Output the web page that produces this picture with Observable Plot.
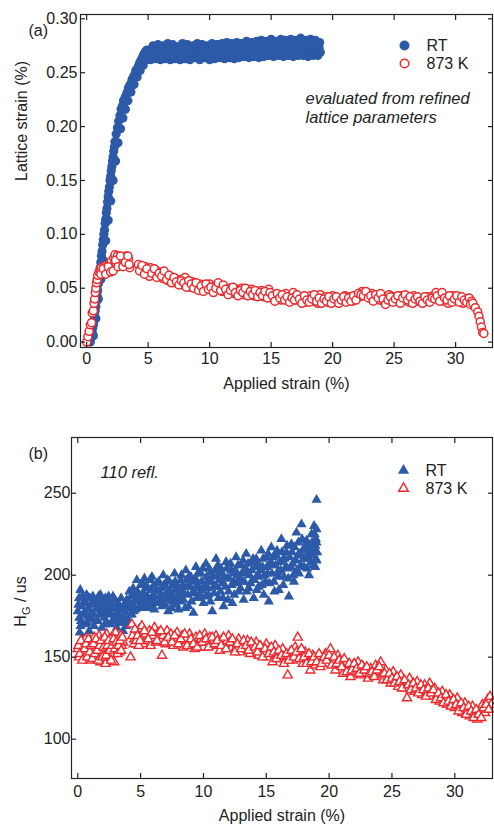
<!DOCTYPE html>
<html><head><meta charset="utf-8">
<script src="https://cdn.jsdelivr.net/npm/d3@7"></script>
<script src="https://cdn.jsdelivr.net/npm/@observablehq/plot@0.6"></script>
<style>body{margin:0;background:#fff;} svg{display:block;}</style>
</head><body><div id="chart"></div>
<script>
const xTicks = [0, 5, 10, 15, 20, 25, 30];
const yTicksA = [0, 0.05, 0.10, 0.15, 0.20, 0.25, 0.30];
const yTicksB = [100, 150, 200, 250];
const seriesNames = ["RT", "873 K"];
const xTitle = "Applied strain (%)";
const yTitleA = "Lattice strain (%)";
const panelA = "(a)", panelB = "(b)";
const noteA = ["evaluated from refined", "lattice parameters"];
const noteB = "110 refl.";

// (a) lattice strain vs applied strain, RT
const latticeRT = [
[0.30,0.000],[0.35,0.004],[0.40,0.006],[0.45,0.009],[0.50,0.013],[0.55,0.016],[0.60,0.020],[0.65,0.024],
[0.70,0.029],[0.75,0.033],[0.80,0.038],[0.85,0.043],[0.90,0.048],[0.95,0.054],[1.00,0.058],[1.05,0.064],
[1.10,0.069],[1.15,0.074],[1.20,0.080],[1.25,0.084],[1.30,0.090],[1.35,0.095],[1.40,0.100],[1.45,0.104],
[1.50,0.110],[1.55,0.114],[1.60,0.120],[1.65,0.124],[1.70,0.130],[1.75,0.135],[1.80,0.140],[1.85,0.144],
[1.90,0.150],[1.95,0.154],[2.00,0.159],[2.05,0.163],[2.10,0.168],[2.15,0.172],[2.20,0.177],[2.25,0.181],
[2.30,0.186],[2.40,0.193],[2.50,0.199],[2.60,0.205],[2.70,0.210],[2.80,0.216],[2.90,0.219],[3.00,0.224],
[3.10,0.226],[3.20,0.229],[3.30,0.232],[3.40,0.236],[3.50,0.238],[3.60,0.240],[3.70,0.244],[3.80,0.246],
[3.90,0.248],[4.00,0.252],[4.10,0.253],[4.20,0.256],[4.30,0.259],[4.40,0.261],[4.50,0.263],[4.60,0.266],
[4.70,0.268],[4.80,0.270],[4.90,0.271],[5.00,0.269],
[0.55,0.006],[0.75,0.022],[0.95,0.040],[1.15,0.058],[1.35,0.076],[1.55,0.094],[1.75,0.113],[1.95,0.131],
[2.15,0.150],[2.35,0.168],[2.55,0.185],[2.75,0.198],[2.95,0.208],[3.15,0.216],[3.35,0.224],[3.60,0.232],
[3.85,0.239],[4.10,0.246],[4.35,0.252],[4.60,0.257],[4.85,0.262],[5.05,0.264],
[5.1,0.266],[5.3,0.272],[5.5,0.268],[5.7,0.265],[5.9,0.271],[6.1,0.268],[6.3,0.273],[6.5,0.266],
[6.7,0.270],[6.9,0.267],[7.1,0.272],[7.3,0.266],[7.5,0.270],[7.7,0.274],[7.9,0.267],[8.1,0.265],
[8.3,0.271],[8.5,0.268],[8.7,0.273],[8.9,0.266],[9.1,0.270],[9.3,0.267],[9.5,0.272],[9.7,0.265],
[9.9,0.269],[10.1,0.273],[10.3,0.267],[10.5,0.270],[10.7,0.266],[10.9,0.271],[11.1,0.268],[11.3,0.274],
[11.5,0.269],[11.7,0.266],[11.9,0.272],[12.1,0.269],[12.3,0.273],[12.5,0.268],[12.7,0.275],[12.9,0.270],
[13.1,0.273],[13.3,0.268],[13.5,0.276],[13.7,0.271],[13.9,0.269],[14.1,0.275],[14.3,0.270],[14.5,0.278],
[14.7,0.272],[14.9,0.268],[15.1,0.275],[15.3,0.271],[15.5,0.277],[15.7,0.269],[15.9,0.274],[16.1,0.278],
[16.3,0.271],[16.5,0.276],[16.7,0.269],[16.9,0.274],[17.1,0.277],[17.3,0.271],[17.5,0.275],[17.7,0.270],
[17.9,0.276],[18.1,0.272],[18.3,0.277],[18.5,0.270],[18.7,0.275],[18.9,0.273],[19.0,0.269],
[5.2,0.262],[5.4,0.275],[5.6,0.263],[5.8,0.276],[6.0,0.262],[6.2,0.275],[6.4,0.263],[6.6,0.277],
[6.8,0.262],[7.0,0.276],[7.2,0.263],[7.4,0.274],[7.6,0.262],[7.8,0.277],[8.0,0.263],[8.2,0.276],
[8.4,0.262],[8.6,0.275],[8.8,0.264],[9.0,0.277],[9.2,0.262],[9.4,0.276],[9.6,0.264],[9.8,0.275],
[10.0,0.262],[10.2,0.277],[10.4,0.263],[10.6,0.276],[10.8,0.264],[11.0,0.277],[11.2,0.263],[11.4,0.278],
[11.6,0.264],[11.8,0.277],[12.0,0.263],[12.2,0.278],[12.4,0.264],[12.6,0.277],[12.8,0.265],[13.0,0.279],
[13.2,0.264],[13.4,0.278],[13.6,0.265],[13.8,0.279],[14.0,0.264],[14.2,0.280],[14.4,0.265],[14.6,0.279],
[14.8,0.266],[15.0,0.281],[15.2,0.265],[15.4,0.279],[15.6,0.266],[15.8,0.281],[16.0,0.265],[16.2,0.280],
[16.4,0.266],[16.6,0.281],[16.8,0.265],[17.0,0.280],[17.2,0.266],[17.4,0.282],[17.6,0.266],[17.8,0.280],
[18.0,0.265],[18.2,0.281],[18.4,0.266],[18.6,0.280],[18.8,0.266],[18.95,0.278]
];
// (a) lattice strain vs applied strain, 873 K
const lattice873 = [
[0.00,0.000],[0.10,0.005],[0.20,0.010],[0.30,0.016],[0.40,0.018],[0.45,0.027],[0.55,0.029],[0.60,0.036],
[0.65,0.040],[0.70,0.046],[0.75,0.050],[0.80,0.055],[0.85,0.058],[0.90,0.062],[1.00,0.065],[1.10,0.067],
[1.20,0.069],[1.30,0.064],[1.40,0.070],[1.50,0.066],[1.60,0.071],[1.70,0.067],[1.80,0.072],[1.90,0.068],
[2.00,0.075],[2.10,0.070],[2.20,0.078],[2.30,0.081],[2.40,0.073],[2.50,0.080],[2.60,0.076],[2.70,0.072],
[2.80,0.078],[2.90,0.074],[3.00,0.077],[3.10,0.079],[3.20,0.080],[3.30,0.075],[3.40,0.077],[3.50,0.069],
[1.15,0.063],[1.35,0.068],[1.55,0.063],[1.75,0.070],[1.95,0.065],[2.15,0.066],[2.35,0.076],[2.55,0.070],
[2.75,0.080],[2.95,0.070],[3.15,0.074],[3.35,0.080],[3.45,0.072],
[4.20,0.072],[4.40,0.068],[4.60,0.065],[4.80,0.070],[5.00,0.066],[5.10,0.061],[5.20,0.069],[5.40,0.064],
[5.60,0.067],[5.80,0.062],[6.00,0.065],[6.20,0.059],[6.40,0.063],[6.60,0.057],[6.80,0.061],[7.00,0.056],
[7.20,0.059],[7.40,0.054],[7.60,0.058],[7.80,0.053],[8.00,0.060],[8.20,0.055],[8.40,0.051],[8.60,0.056],
[8.80,0.052],[9.00,0.050],[9.20,0.054],[9.40,0.049],[9.60,0.052],[9.80,0.050],[10.00,0.054],[10.20,0.048],
[10.40,0.052],[10.60,0.049],[10.80,0.053],[11.00,0.047],[11.20,0.051],[11.40,0.046],[11.60,0.050],[11.80,0.048],
[12.00,0.045],[12.20,0.049],[12.40,0.046],[12.60,0.050],[12.80,0.044],[13.00,0.047],[13.20,0.045],[13.40,0.049],
[13.60,0.043],[13.80,0.046],[14.00,0.044],[14.20,0.048],[14.40,0.042],[14.60,0.045],[14.80,0.049],[15.00,0.041],
[15.20,0.044],[15.40,0.040],[15.60,0.043],[15.80,0.039],[16.00,0.042],[16.20,0.045],[16.40,0.040],[16.60,0.043],
[16.80,0.046],[17.00,0.039],[17.20,0.042],[17.40,0.038],[17.60,0.041],[17.80,0.037],[18.00,0.040],[18.20,0.043],
[18.40,0.038],[18.60,0.041],[18.80,0.036],[19.00,0.044],[19.20,0.039],[19.40,0.042],[19.60,0.037],[19.80,0.040],
[20.00,0.043],[20.20,0.038],[20.40,0.041],[20.60,0.037],[20.80,0.040],[21.00,0.043],[21.20,0.039],[21.40,0.042],
[21.60,0.038],[21.80,0.041],[22.00,0.044],[22.20,0.042],[22.40,0.047],[22.60,0.044],[22.80,0.046],[23.00,0.042],
[23.20,0.045],[23.40,0.040],[23.60,0.043],[23.80,0.039],[24.00,0.042],[24.20,0.037],[24.40,0.041],[24.60,0.044],
[24.80,0.039],[25.00,0.042],[25.20,0.038],[25.40,0.041],[25.60,0.043],[25.80,0.039],[26.00,0.042],[26.20,0.037],
[26.40,0.040],[26.60,0.043],[26.80,0.038],[27.00,0.041],[27.20,0.037],[27.40,0.040],[27.60,0.038],[27.80,0.042],
[28.00,0.039],[28.20,0.043],[28.40,0.046],[28.60,0.041],[28.80,0.044],[29.00,0.038],[29.20,0.042],[29.40,0.036],
[29.60,0.040],[29.80,0.043],[30.00,0.038],[30.20,0.041],[30.40,0.039],[30.60,0.036],[30.80,0.040],[31.00,0.038],
[4.3,0.066],[4.5,0.071],[4.7,0.063],[4.9,0.068],[5.3,0.064],[5.5,0.068],[5.7,0.060],[5.9,0.064],
[6.1,0.061],[6.3,0.066],[6.5,0.058],[6.7,0.062],[6.9,0.055],[7.1,0.060],[7.3,0.056],[7.5,0.053],
[7.7,0.057],[7.9,0.055],[8.1,0.051],[8.3,0.057],[8.5,0.054],[8.7,0.050],[8.9,0.055],[9.1,0.048],
[9.3,0.052],[9.5,0.047],[9.7,0.054],[9.9,0.049],[10.1,0.051],[10.3,0.046],[10.5,0.050],[10.7,0.055],
[10.9,0.048],[11.1,0.053],[11.3,0.049],[11.5,0.044],[11.7,0.048],[11.9,0.051],[12.1,0.046],[12.3,0.043],
[12.5,0.048],[12.7,0.046],[12.9,0.050],[13.1,0.043],[13.3,0.047],[13.5,0.044],[13.7,0.048],[13.9,0.042],
[14.1,0.046],[14.3,0.043],[14.5,0.047],[14.7,0.041],[14.9,0.046],[15.1,0.043],[15.3,0.038],[15.5,0.045],
[15.7,0.041],[15.9,0.044],[16.1,0.039],[16.3,0.042],[16.5,0.037],[16.7,0.041],[16.9,0.039],[17.1,0.044],
[17.3,0.040],[17.5,0.036],[17.7,0.043],[17.9,0.039],[18.1,0.037],[18.3,0.040],[18.5,0.044],[18.7,0.038],
[18.9,0.041],[19.1,0.036],[19.3,0.040],[19.5,0.038],[19.7,0.042],[19.9,0.036],[20.1,0.040],[20.3,0.042],
[20.5,0.036],[20.7,0.039],[20.9,0.042],[21.1,0.037],[21.3,0.041],[21.5,0.038],[21.7,0.043],[21.9,0.039],
[22.1,0.045],[22.3,0.044],[22.5,0.043],[22.7,0.047],[22.9,0.041],[23.1,0.043],[23.3,0.038],[23.5,0.044],
[23.7,0.041],[23.9,0.045],[24.1,0.040],[24.3,0.035],[24.5,0.039],[24.7,0.042],[24.9,0.037],[25.1,0.040],
[25.3,0.043],[25.5,0.036],[25.7,0.041],[25.9,0.044],[26.1,0.039],[26.3,0.042],[26.5,0.036],[26.7,0.040],
[26.9,0.042],[27.1,0.038],[27.3,0.036],[27.5,0.042],[27.7,0.039],[27.9,0.037],[28.1,0.041],[28.3,0.040],
[28.5,0.043],[28.7,0.038],[28.9,0.046],[29.1,0.041],[29.3,0.039],[29.5,0.043],[29.7,0.037],[29.9,0.040],
[30.1,0.043],[30.3,0.037],[30.5,0.042],[30.7,0.039],[30.9,0.037],[31.1,0.041],[31.3,0.038],
[31.20,0.035],[31.40,0.036],[31.60,0.032],[31.80,0.028],[31.90,0.024],[32.00,0.019],[32.10,0.014],[32.20,0.009],
[32.30,0.008]
];

// (b) H_G vs applied strain, RT
const hgRT = [
[0.0,178],[0.1,186],[0.15,165],[0.2,191],[0.25,172],[0.3,181],[0.4,162],[0.45,176],[0.5,184],[0.6,170],
[0.7,188],[0.8,175],[0.9,166],[1.0,182],[1.1,173],[1.2,187],[1.3,169],[1.4,179],[1.5,185],[1.6,172],
[1.7,176],[1.8,188],[1.9,168],[2.0,181],[2.1,174],[2.2,186],[2.3,171],[2.4,179],[2.5,184],[2.6,170],
[2.7,176],[2.8,187],[2.9,173],[3.0,180],[3.1,168],[3.2,183],[3.3,175],[3.4,171],[3.5,179],[3.6,166],
[3.7,182],[3.8,177],[3.9,185],[4.0,173],[4.1,190],[4.2,180],[4.3,176],[4.4,192],[4.5,184],[4.6,179],
[4.7,197],[4.8,186],[4.9,181],[5.0,194],[5.1,188],[5.2,182],[5.3,198],[5.4,186],[5.5,180],[5.6,192],
[5.8,184],[5.9,199],[6.0,188],[6.1,179],[6.3,195],[6.4,185],[6.5,190],[6.7,181],[6.8,200],[6.9,187],
[7.0,193],[7.2,178],[7.3,196],[7.4,188],[7.5,184],[7.7,201],[7.8,191],[7.9,186],[8.0,179],[8.2,197],
[8.3,190],[8.4,185],[8.6,203],[8.7,193],[8.8,181],[9.0,199],[9.1,189],[9.2,177],[9.4,205],[9.5,194],
[9.6,186],[9.8,201],[9.9,191],[10.0,183],[10.2,207],[10.3,196],[10.4,188],[10.6,202],[10.7,178],[10.8,193],
[11.0,210],[11.1,199],[11.2,186],[11.4,204],[11.5,195],[11.6,181],[11.8,208],[11.9,198],[12.0,190],[12.2,203],
[12.3,183],[12.4,196],[12.6,211],[12.7,200],[12.8,190],[13.0,206],[13.1,196],[13.2,185],[13.4,213],[13.5,202],
[13.6,192],[13.8,208],[13.9,197],[14.0,186],[14.2,210],[14.3,200],[14.4,193],[14.6,215],[14.7,205],[14.8,188],
[15.0,211],[15.1,201],[15.2,184],[15.4,217],[15.5,206],[15.6,196],[15.8,212],[15.9,202],[16.0,191],[16.2,222],
[16.3,209],[16.4,199],[16.6,214],[16.7,204],[16.8,187],[17.0,219],[17.1,207],[17.2,196],[17.4,226],[17.5,212],
[17.6,201],[17.8,231],[17.9,215],[18.0,205],[18.2,221],[18.3,210],[18.4,200],[18.5,216],[18.6,225],[18.7,206],
[18.8,230],[18.9,214],[19.0,246],[18.95,222],[19.0,209],[18.9,218],
[0.05,182],[0.12,174],[0.22,169],[0.35,187],[0.55,178],[0.65,183],[0.75,171],[0.85,180],[0.95,186],[1.05,177],
[1.15,183],[1.25,176],[1.35,184],[1.45,172],[1.55,180],[1.65,187],[1.75,182],[1.85,176],[1.95,184],[2.05,178],
[2.15,170],[2.25,182],[2.35,176],[2.45,187],[2.55,177],[2.65,182],[2.75,172],[2.85,180],[2.95,185],[3.05,175],
[3.15,178],[3.25,171],[3.35,181],[3.45,186],[3.55,174],[3.65,180],[3.75,172],[3.85,169],[3.95,180],[4.05,184],
[4.15,176],[4.25,187],[4.35,182],[4.45,178],[4.55,189],[4.65,185],[4.75,190],[4.85,180],[4.95,187],[5.05,182],
[5.15,195],[5.25,189],[5.35,184],[5.45,193],[5.55,187],[5.65,183],[5.75,197],[5.85,191],[5.95,181],[6.05,194],
[6.15,186],[6.25,191],[6.35,183],[6.45,196],[6.55,187],[6.65,192],[6.75,185],[6.85,194],[6.95,182],[7.05,188],
[7.15,197],[7.25,185],[7.35,191],[7.45,180],[7.55,194],[7.65,187],[7.75,196],[7.85,182],[7.95,193],[8.05,188],
[8.15,184],[8.25,200],[8.35,194],[8.45,189],[8.55,180],[8.65,197],[8.75,188],[8.85,199],[8.95,193],[9.05,184],
[9.15,196],[9.25,190],[9.35,198],[9.45,186],[9.55,201],[9.65,192],[9.75,188],[9.85,196],[9.95,204],[10.05,193],
[10.15,187],[10.25,199],[10.35,192],[10.45,204],[10.55,184],[10.65,196],[10.75,200],[10.85,189],[10.95,203],[11.05,193],
[11.15,206],[11.25,197],[11.35,190],[11.45,201],[11.55,186],[11.65,199],[11.75,193],[11.85,204],[11.95,185],[12.05,198],
[12.15,207],[12.25,194],[12.35,201],[12.45,188],[12.55,203],[12.65,195],[12.75,206],[12.85,198],[12.95,192],[13.05,201],
[13.15,209],[13.25,196],[13.35,204],[13.45,190],[13.55,207],[13.65,200],[13.75,195],[13.85,203],[13.95,210],[14.05,197],
[14.15,205],[14.25,191],[14.35,207],[14.45,199],[14.55,203],[14.65,194],[14.75,210],[14.85,200],[14.95,196],[15.05,205],
[15.15,213],[15.25,195],[15.35,208],[15.45,201],[15.55,211],[15.65,190],[15.75,206],[15.85,215],[15.95,199],[16.05,208],
[16.15,203],[16.25,214],[16.35,194],[16.45,210],[16.55,205],[16.65,218],[16.75,198],[16.85,211],[16.95,205],[17.05,214],
[17.15,200],[17.25,217],[17.35,209],[17.45,203],[17.55,220],[17.65,213],[17.75,206],[17.85,222],[17.95,210],[18.05,217],
[18.15,211],[18.25,204],[18.35,219],[18.45,213],[18.55,208],[18.65,220],[18.75,212],[18.85,225],[18.95,210],[19.0,220],
[19.05,214],[18.9,205],[19.0,228]
];
// (b) H_G vs applied strain, 873 K
const hg873 = [
[0.0,155],[0.1,150],[0.2,159],[0.3,153],[0.4,157],[0.5,149],[0.6,161],[0.7,152],[0.8,156],[0.9,148],
[1.0,160],[1.1,154],[1.2,150],[1.3,162],[1.4,155],[1.5,158],[1.6,151],[1.7,163],[1.8,147],[1.9,157],
[2.0,153],[2.1,160],[2.2,146],[2.3,164],[2.4,155],[2.5,150],[2.6,158],[2.7,162],[2.8,152],[2.9,147],
[3.0,165],[3.1,156],[3.2,160],[3.3,153],[3.4,163],[3.5,157],[3.6,159],[4.2,150],[4.3,170],[4.5,161],
[0.05,157],[0.15,152],[0.25,160],[0.35,148],[0.55,155],[0.65,158],[0.75,150],[0.85,161],[0.95,153],[1.05,157],
[1.15,149],[1.25,158],[1.35,152],[1.45,161],[1.55,154],[1.65,148],[1.75,157],[1.85,160],[1.95,150],[2.05,156],
[2.15,162],[2.25,151],[2.35,157],[2.45,160],[2.55,154],[2.65,148],[2.75,157],[2.85,161],[2.95,155],[3.05,159],
[3.15,152],[3.25,157],[3.35,160],[3.45,154],[3.55,162],
[4.6,165],[4.7,158],[4.9,167],[5.0,162],[5.1,169],[5.2,158],[5.4,164],[5.5,160],[5.7,166],[5.8,157],
[6.0,163],[6.1,168],[6.2,159],[6.4,165],[6.5,161],[6.7,151],[6.8,163],[7.0,158],[7.1,166],[7.3,160],
[7.4,164],[7.6,157],[7.8,162],[7.9,165],[8.1,159],[8.3,163],[8.4,156],[8.6,161],[8.8,158],[8.9,164],
[9.1,160],[9.3,155],[9.4,162],[9.6,158],[9.8,161],[10.0,156],[10.1,164],[10.3,159],[10.5,162],[10.6,157],
[10.8,160],[11.0,163],[11.2,158],[11.3,154],[11.5,161],[11.7,157],[11.9,160],[12.0,163],[12.2,155],[12.4,159],
[12.6,156],[12.8,161],[12.9,153],[13.1,158],[13.3,155],[13.5,160],[13.7,152],[13.9,157],[14.0,154],[14.2,159],
[14.4,151],[14.6,156],[14.8,153],[15.0,158],[15.1,150],[15.3,155],[15.5,147],[15.7,157],[15.9,152],[16.1,149],
[16.3,155],[16.5,150],[16.7,139],[16.9,153],[17.1,148],[17.3,156],[17.5,162],[17.7,151],[17.9,146],[18.1,153],
[18.3,148],[18.5,142],[18.7,151],[18.9,145],[19.1,150],[19.3,144],[19.5,149],[19.7,152],[19.9,146],[20.1,155],
[20.3,148],[20.5,142],[20.7,151],[20.9,145],[21.1,140],[21.3,147],[21.5,143],[21.7,138],[21.9,145],[22.1,141],
[22.3,147],[22.5,139],[22.7,144],[22.9,140],[23.1,137],[23.3,143],[23.5,139],[23.7,145],[23.9,141],[24.1,147],
[24.3,136],[24.5,142],[24.7,138],[24.9,134],[25.1,141],[25.3,137],[25.5,132],[25.7,139],[25.9,135],[26.1,131],
[26.2,125],[26.4,137],[26.6,133],[26.8,129],[27.0,135],[27.2,131],[27.4,127],[27.6,133],[27.8,129],[28.0,134],
[28.2,126],[28.4,131],[28.6,127],[28.8,123],[29.0,129],[29.2,125],[29.4,121],[29.6,127],[29.8,123],[30.0,119],
[30.2,125],[30.4,120],[30.6,116],[30.8,122],[31.0,118],[31.2,114],[31.4,120],[31.6,116],[31.8,112],[32.0,118],
[32.2,121],[32.4,116],[32.6,124],[32.8,126],[32.9,121],
[4.35,163],[4.45,158],[4.55,167],[4.65,160],[4.75,163],[4.85,157],[4.95,160],[5.3,166],[5.6,161],[5.9,165],
[6.3,160],[6.6,166],[6.9,159],[7.2,162],[7.5,159],[7.7,163],[8.0,158],[8.2,161],[8.5,164],[8.7,157],
[9.0,161],[9.2,158],[9.5,156],[9.7,163],[9.9,159],[10.2,161],[10.4,156],[10.7,162],[10.9,158],[11.1,160],
[11.4,157],[11.6,162],[11.8,155],[12.1,159],[12.3,161],[12.5,153],[12.7,158],[13.0,155],[13.2,160],[13.4,157],
[13.6,154],[13.8,159],[14.1,156],[14.3,153],[14.5,157],[14.7,150],[14.9,155],[15.2,152],[15.4,156],[15.6,153],
[15.8,149],[16.0,154],[16.2,151],[16.4,146],[16.6,152],[16.8,148],[17.0,154],[17.2,150],[17.4,153],[17.6,149],
[17.8,155],[18.0,150],[18.2,146],[18.4,152],[18.6,147],[18.8,150],[19.0,147],[19.2,152],[19.4,146],[19.6,150],
[19.8,148],[20.0,151],[20.2,145],[20.4,150],[20.6,146],[20.8,148],[21.0,144],[21.2,149],[21.4,141],[21.6,146],
[21.8,142],[22.0,146],[22.2,143],[22.4,140],[22.6,145],[22.8,142],[23.0,144],[23.2,140],[23.4,141],[23.6,138],
[23.8,142],[24.0,144],[24.2,139],[24.4,140],[24.6,136],[24.8,140],[25.0,137],[25.2,134],[25.4,138],[25.6,135],
[25.8,131],[26.0,136],[26.3,133],[26.5,130],[26.7,134],[26.9,131],[27.1,128],[27.3,133],[27.5,130],[27.7,126],
[27.9,131],[28.1,128],[28.3,130],[28.5,124],[28.7,128],[28.9,125],[29.1,122],[29.3,127],[29.5,123],[29.7,120],
[29.9,124],[30.1,121],[30.3,117],[30.5,122],[30.7,119],[30.9,115],[31.1,120],[31.3,117],[31.5,113],[31.7,118],
[31.9,115],[32.1,113],[32.3,119],[32.5,121],[32.7,118]
];

const BLUE = "#2c5aa8", RED = "#ec2a2e", INK = "#222";
const FONT = "'Liberation Sans', Arial, Helvetica, sans-serif";

function frameAxes(yTicks, yFmt, xPad, yPad) {
  const blank = () => "";
  return [
    Plot.axisX(xTicks, {anchor: "bottom", tickSize: 0, tickPadding: xPad, label: null}),
    Plot.axisX(xTicks, {anchor: "bottom", tickSize: 5, dy: -5, tickFormat: blank, label: null, strokeWidth: 1.2}),
    Plot.axisX(xTicks, {anchor: "top", tickSize: 5, dy: 5, tickFormat: blank, label: null, strokeWidth: 1.2}),
    Plot.axisY(yTicks, {anchor: "left", tickSize: 0, tickPadding: yPad, tickFormat: yFmt, label: null}),
    Plot.axisY(yTicks, {anchor: "left", tickSize: 5, dx: 5, tickFormat: blank, label: null, strokeWidth: 1.2}),
    Plot.axisY(yTicks, {anchor: "right", tickSize: 5, dx: -5, tickFormat: blank, label: null, strokeWidth: 1.2}),
    Plot.frame({stroke: INK, strokeWidth: 1.2})
  ];
}
const style = {fontFamily: FONT, fontSize: "16px", color: INK, background: "white", overflow: "visible"};
const T = d => d;

const A = {top: 14, bottom: 53, left: 80, right: 2, height: 400};
const svgA = Plot.plot({
  width: 494, height: A.height,
  marginTop: A.top, marginBottom: A.bottom, marginLeft: A.left, marginRight: A.right,
  style,
  x: {domain: [-0.5, 33]},
  y: {domain: [-0.005, 0.304]},
  marks: [
    Plot.dot(latticeRT, {x: d => d[0], y: d => d[1], r: 4.6, fill: BLUE}),
    Plot.dot(lattice873, {x: d => d[0], y: d => d[1], r: 4, stroke: RED, strokeWidth: 1.5, fill: "white"}),
    ...frameAxes(yTicksA, d3.format(".2f"), 5, 3),
    Plot.text([xTitle], {text: T, frameAnchor: "bottom", dy: 36, lineAnchor: "middle", fontSize: 16}),
    Plot.text([yTitleA], {text: T, frameAnchor: "left", dx: -59, rotate: -90, lineAnchor: "middle", fontSize: 16}),
    Plot.text([panelA], {text: T, frameAnchor: "top-left", dx: -52, dy: 16, lineAnchor: "middle", fontSize: 16}),
    Plot.dot([seriesNames[0]], {frameAnchor: "top-right", dx: -88, dy: 31, r: 5, fill: BLUE}),
    Plot.dot([seriesNames[1]], {frameAnchor: "top-right", dx: -88, dy: 49, r: 4.3, stroke: RED, strokeWidth: 1.5, fill: "white"}),
    Plot.text([seriesNames[0]], {text: T, frameAnchor: "top-right", dx: -66, dy: 31, textAnchor: "start", lineAnchor: "middle", fontSize: 16}),
    Plot.text([seriesNames[1]], {text: T, frameAnchor: "top-right", dx: -66, dy: 49, textAnchor: "start", lineAnchor: "middle", fontSize: 16}),
    Plot.text([noteA[0]], {text: T, frameAnchor: "top-right", dx: -187, dy: 84, textAnchor: "start", lineAnchor: "middle", fontSize: 16.5, fontStyle: "italic"}),
    Plot.text([noteA[1]], {text: T, frameAnchor: "top-right", dx: -187, dy: 103, textAnchor: "start", lineAnchor: "middle", fontSize: 16.5, fontStyle: "italic"})
  ]
});

const B = {top: 37, bottom: 46, left: 71, right: 2, height: 424};
const svgB = Plot.plot({
  width: 494, height: B.height,
  marginTop: B.top, marginBottom: B.bottom, marginLeft: B.left, marginRight: B.right,
  style,
  x: {domain: [-0.5, 33]},
  y: {domain: [76, 284]},
  marks: [
    Plot.dot(hgRT, {x: d => d[0], y: d => d[1], symbol: "triangle", r: 3.8, fill: BLUE}),
    Plot.dot(hg873, {x: d => d[0], y: d => d[1], symbol: "triangle", r: 3.4, stroke: RED, strokeWidth: 1.4, fill: "white"}),
    ...frameAxes(yTicksB, d3.format("d"), 7, 1),
    Plot.text([xTitle], {text: T, frameAnchor: "bottom", dy: 37, lineAnchor: "middle", fontSize: 16}),
    Plot.text([panelB], {text: T, frameAnchor: "top-left", dx: -43, dy: 16, lineAnchor: "middle", fontSize: 16}),
    Plot.text([noteB], {text: T, frameAnchor: "top-left", dx: 29, dy: 35, textAnchor: "start", lineAnchor: "middle", fontSize: 16.5, fontStyle: "italic"}),
    Plot.dot([seriesNames[0]], {frameAnchor: "top-right", dx: -89, dy: 33, symbol: "triangle", r: 4.2, fill: BLUE}),
    Plot.dot([seriesNames[1]], {frameAnchor: "top-right", dx: -89, dy: 51, symbol: "triangle", r: 3.6, stroke: RED, strokeWidth: 1.4, fill: "white"}),
    Plot.text([seriesNames[0]], {text: T, frameAnchor: "top-right", dx: -67, dy: 33, textAnchor: "start", lineAnchor: "middle", fontSize: 16}),
    Plot.text([seriesNames[1]], {text: T, frameAnchor: "top-right", dx: -67, dy: 51, textAnchor: "start", lineAnchor: "middle", fontSize: 16})
  ]
});

// y title with subscript for panel (b)
const cy = B.top + (B.height - B.top - B.bottom) / 2;
const lab = d3.select(svgB).append("text")
  .attr("transform", `translate(20,${cy - 6}) rotate(-90)`)
  .attr("text-anchor", "middle").attr("dy", "0.35em")
  .attr("fill", INK).attr("font-size", 16).attr("font-family", FONT);
lab.append("tspan").text("H");
lab.append("tspan").attr("font-size", 11).attr("dy", 4).text("G");
lab.append("tspan").attr("dy", -4).text(" / us");

const root = document.getElementById("chart");
root.appendChild(svgA);
root.appendChild(svgB);
</script>
</body></html>
